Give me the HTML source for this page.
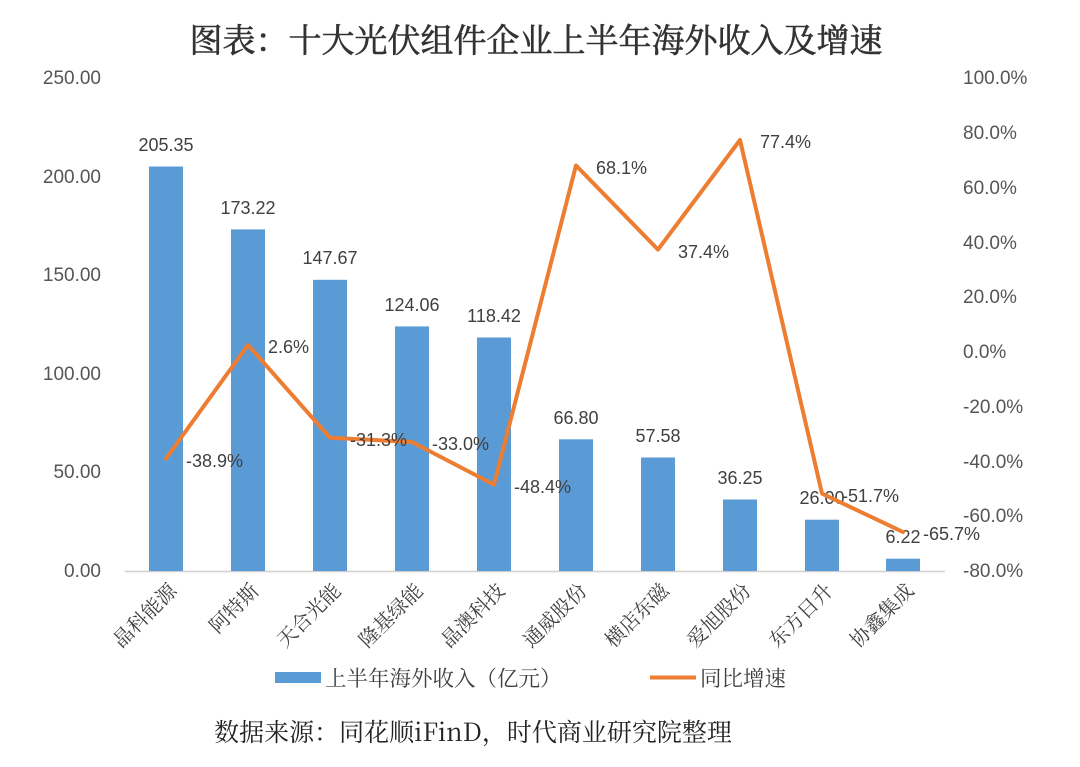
<!DOCTYPE html>
<html><head><meta charset="utf-8"><style>
body{margin:0;background:#fff;}
</style></head><body>
<svg width="1080" height="767" xmlns="http://www.w3.org/2000/svg" style="display:block">
<rect width="1080" height="767" fill="#fff"/>
<text x="536" y="52" text-anchor="middle" font-family="'Noto Serif CJK SC',serif" font-size="33" fill="#333" stroke="#333" stroke-width="0.6">图表：十大光伏组件企业上半年海外收入及增速</text>
<g font-family="'Liberation Sans',sans-serif" font-size="19" fill="#555">
<text x="101" y="84" text-anchor="end">250.00</text>
<text x="101" y="183" text-anchor="end">200.00</text>
<text x="101" y="281" text-anchor="end">150.00</text>
<text x="101" y="380" text-anchor="end">100.00</text>
<text x="101" y="478" text-anchor="end">50.00</text>
<text x="101" y="577" text-anchor="end">0.00</text>
<text x="963" y="84">100.0%</text>
<text x="963" y="139">80.0%</text>
<text x="963" y="194">60.0%</text>
<text x="963" y="249">40.0%</text>
<text x="963" y="303">20.0%</text>
<text x="963" y="358">0.0%</text>
<text x="963" y="413">-20.0%</text>
<text x="963" y="468">-40.0%</text>
<text x="963" y="522">-60.0%</text>
<text x="963" y="577">-80.0%</text>
</g>
<line x1="125" y1="571.5" x2="945" y2="571.5" stroke="#d0d0d0" stroke-width="1.5"/>
<g fill="#5b9bd5">
<rect x="149" y="166.5" width="34" height="404.5"/>
<rect x="231" y="229.4" width="34" height="341.6"/>
<rect x="313" y="279.8" width="34" height="291.2"/>
<rect x="395" y="326.4" width="34" height="244.6"/>
<rect x="477" y="337.5" width="34" height="233.5"/>
<rect x="559" y="439.3" width="34" height="131.7"/>
<rect x="641" y="457.5" width="34" height="113.5"/>
<rect x="723" y="499.5" width="34" height="71.5"/>
<rect x="805" y="519.7" width="34" height="51.3"/>
<rect x="886" y="558.7" width="34" height="12.3"/>
</g>
<g font-family="'Liberation Sans',sans-serif" font-size="18" fill="#404040" text-anchor="middle">
<text x="166" y="151">205.35</text>
<text x="248" y="214">173.22</text>
<text x="330" y="264">147.67</text>
<text x="412" y="311">124.06</text>
<text x="494" y="322">118.42</text>
<text x="576" y="424">66.80</text>
<text x="658" y="442">57.58</text>
<text x="740" y="484">36.25</text>
<text x="822" y="504">26.00</text>
<text x="903" y="543">6.22</text>
</g>
<polyline fill="none" stroke="#ed7d31" stroke-width="4" stroke-linejoin="round" stroke-linecap="round"
points="166,458.5 248,345 330,437.7 412,442 494,484.6 576,165.5 658,249.6 740,140 822,493.6 903,532"/>
<g font-family="'Liberation Sans',sans-serif" font-size="18" fill="#404040">
<text x="186" y="467">-38.9%</text>
<text x="268" y="353">2.6%</text>
<text x="350" y="446">-31.3%</text>
<text x="432" y="450">-33.0%</text>
<text x="514" y="493">-48.4%</text>
<text x="596" y="174">68.1%</text>
<text x="678" y="258">37.4%</text>
<text x="760" y="148">77.4%</text>
<text x="842" y="502">-51.7%</text>
<text x="923" y="540">-65.7%</text>
</g>
<g font-family="'Noto Serif CJK SC',serif" font-size="20" fill="#404040" text-anchor="end">
<text transform="translate(178,592) rotate(-45)">晶科能源</text>
<text transform="translate(260,592) rotate(-45)">阿特斯</text>
<text transform="translate(342,592) rotate(-45)">天合光能</text>
<text transform="translate(424,592) rotate(-45)">隆基绿能</text>
<text transform="translate(506,592) rotate(-45)">晶澳科技</text>
<text transform="translate(588,592) rotate(-45)">通威股份</text>
<text transform="translate(670,592) rotate(-45)">横店东磁</text>
<text transform="translate(752,592) rotate(-45)">爱旭股份</text>
<text transform="translate(834,592) rotate(-45)">东方日升</text>
<text transform="translate(915,592) rotate(-45)">协鑫集成</text>
</g>
<rect x="275" y="672" width="46" height="11" fill="#5b9bd5"/>
<text x="325" y="686" font-family="'Noto Serif CJK SC',serif" font-size="21.5" fill="#404040">上半年海外收入（亿元）</text>
<line x1="650" y1="677.5" x2="696" y2="677.5" stroke="#ed7d31" stroke-width="4"/>
<text x="700" y="686" font-family="'Noto Serif CJK SC',serif" font-size="21.5" fill="#404040">同比增速</text>
<text x="473" y="741" text-anchor="middle" font-family="'Noto Serif CJK SC',serif" font-size="25" fill="#222">数据来源：同花顺iFinD，时代商业研究院整理</text>
</svg>
</body></html>
